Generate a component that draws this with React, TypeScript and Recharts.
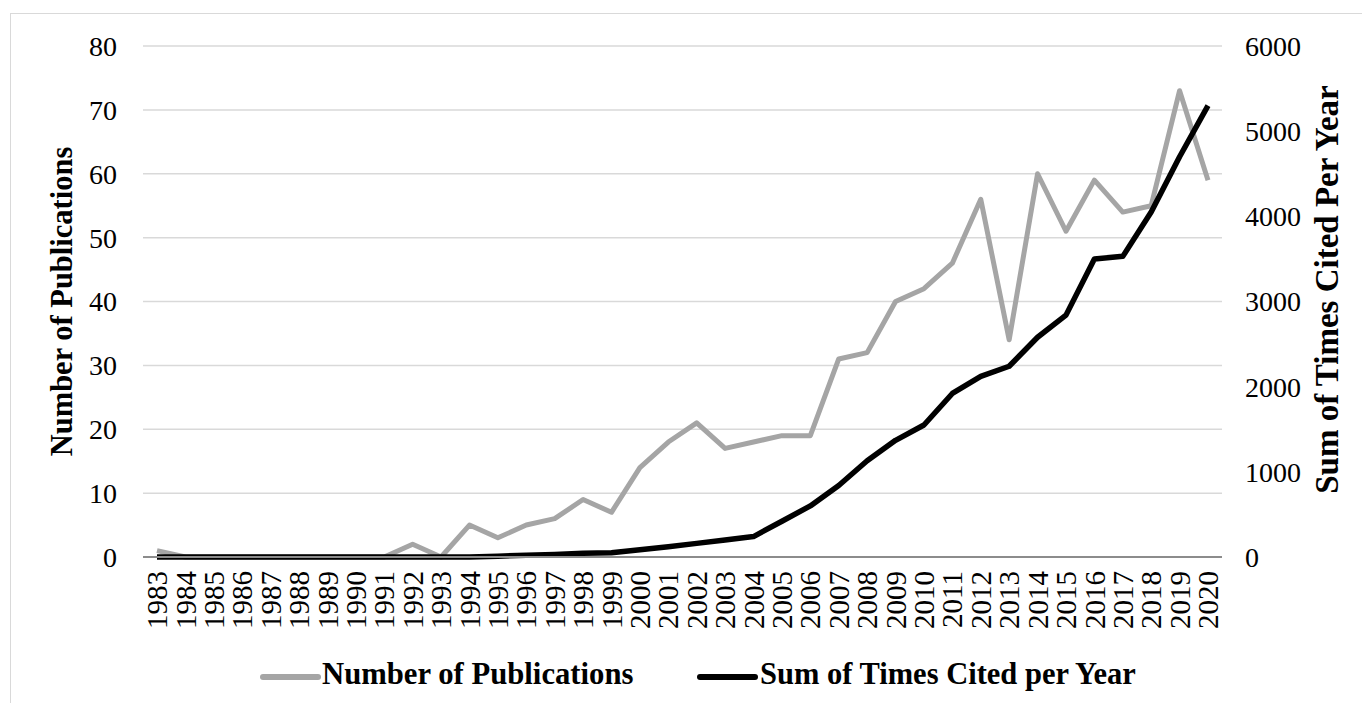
import React from "react"
import {
  LineChart,
  Line,
  XAxis,
  YAxis,
  CartesianGrid,
} from "recharts"

const years = [
  "1983", "1984", "1985", "1986", "1987", "1988", "1989", "1990", "1991", "1992",
  "1993", "1994", "1995", "1996", "1997", "1998", "1999", "2000", "2001", "2002",
  "2003", "2004", "2005", "2006", "2007", "2008", "2009", "2010", "2011", "2012",
  "2013", "2014", "2015", "2016", "2017", "2018", "2019", "2020",
]

const publications = [
  1, 0, 0, 0, 0, 0, 0, 0, 0, 2,
  0, 5, 3, 5, 6, 9, 7, 14, 18, 21,
  17, 18, 19, 19, 31, 32, 40, 42, 46, 56,
  34, 60, 51, 59, 54, 55, 73, 59,
]

const citations = [
  0, 0, 0, 0, 0, 0, 0, 0, 0, 0,
  0, 0, 10, 20, 30, 45, 50, 85, 120, 160,
  200, 240, 420, 600, 840, 1130, 1370, 1550, 1920, 2120,
  2240, 2580, 2840, 3500, 3530, 4050, 4700, 5300,
]

const leftTicks = [0, 10, 20, 30, 40, 50, 60, 70, 80]
const rightTicks = [0, 1000, 2000, 3000, 4000, 5000, 6000]

const data = years.map((year, i) => ({
  year,
  pubs: publications[i],
  cites: citations[i],
}))

const FONT = '"Liberation Serif", "Times New Roman", serif'
const GRAY = "#a5a5a5"

function YearTick({ x, y, payload }: any) {
  return (
    <text
      x={x}
      y={y}
      transform={`rotate(-90, ${x}, ${y})`}
      textAnchor="end"
      dy="0.35em"
      fontFamily={FONT}
      fontSize={29}
      fill="#000"
    >
      {payload.value}
    </text>
  )
}

// rotated axis title, placed from the axis box
function AxisTitle({ viewBox, value, dx, dy, size }: any) {
  const cx = viewBox.x + dx
  const cy = viewBox.y + viewBox.height / 2 + dy
  return (
    <text
      x={cx}
      y={cy}
      transform={`rotate(-90, ${cx}, ${cy})`}
      textAnchor="middle"
      dominantBaseline="central"
      fontFamily={FONT}
      fontSize={size}
      fontWeight="bold"
      fill="#000"
    >
      {value}
    </text>
  )
}

export default function App() {
  return (
    <div style={{ position: "relative", width: 1362, height: 695, overflow: "hidden", fontFamily: FONT }}>
      <div
        style={{
          position: "absolute",
          left: 2,
          top: 5,
          width: 1500,
          height: 800,
          border: "1px solid #d9d9d9",
        }}
      />
      <div style={{ position: "absolute", left: 0, top: 0 }}>
        <LineChart
          width={1362}
          height={695}
          data={data}
          margin={{ top: 38, left: 55, right: 58, bottom: 56 }}
        >
          <CartesianGrid yAxisId="left" vertical={false} stroke="#d9d9d9" strokeWidth={1.5} />
          <XAxis
            dataKey="year"
            interval={0}
            height={90}
            padding={{ left: 14, right: 14 }}
            tick={<YearTick />}
            tickSize={0}
            tickMargin={14}
            axisLine={{ stroke: "#8c8c8c", strokeWidth: 2 }}
            tickLine={false}
          />
          <YAxis
            yAxisId="left"
            domain={[0, 80]}
            ticks={leftTicks}
            width={80}
            tickSize={0}
            tickMargin={26}
            axisLine={false}
            tickLine={false}
            tick={{ fontFamily: FONT, fontSize: 28, fill: "#000" }}
            label={(props: any) => (
              <AxisTitle {...props} value="Number of Publications" dx={-1} dy={0} size={30.5} />
            )}
          />
          <YAxis
            yAxisId="right"
            orientation="right"
            domain={[0, 6000]}
            ticks={rightTicks}
            width={90}
            tickSize={0}
            tickMargin={23}
            axisLine={false}
            tickLine={false}
            tick={{ fontFamily: FONT, fontSize: 28, fill: "#000", textAnchor: "start" }}
            label={(props: any) => (
              <AxisTitle {...props} value="Sum of Times Cited Per Year" dx={105} dy={-12} size={33} />
            )}
          />
          <Line
            yAxisId="left"
            type="linear"
            dataKey="pubs"
            stroke={GRAY}
            strokeWidth={5}
            dot={false}
            strokeLinejoin="round"
            isAnimationActive={false}
          />
          <Line
            yAxisId="right"
            type="linear"
            dataKey="cites"
            stroke="#000"
            strokeWidth={5.5}
            dot={false}
            strokeLinejoin="round"
            isAnimationActive={false}
          />
        </LineChart>
      </div>
      <div style={{ position: "absolute", left: 252, top: 666, width: 61, height: 6, borderRadius: 3, background: GRAY }} />
      <div
        style={{
          position: "absolute",
          left: 314,
          top: 649,
          fontSize: 30.7,
          fontWeight: "bold",
          lineHeight: "34px",
          whiteSpace: "nowrap",
        }}
      >
        Number of Publications
      </div>
      <div style={{ position: "absolute", left: 689, top: 666, width: 61, height: 6, borderRadius: 3, background: "#000" }} />
      <div
        style={{
          position: "absolute",
          left: 752,
          top: 649,
          fontSize: 30.5,
          fontWeight: "bold",
          lineHeight: "34px",
          whiteSpace: "nowrap",
        }}
      >
        Sum of Times Cited per Year
      </div>
    </div>
  )
}
